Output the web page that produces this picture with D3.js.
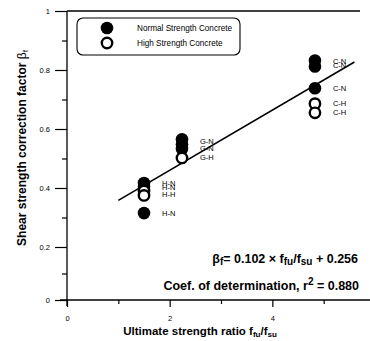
<!DOCTYPE html>
<html><head><meta charset="utf-8">
<script src="https://cdn.jsdelivr.net/npm/d3@7"></script>
<style>
html,body{margin:0;padding:0;background:#fff;}
svg{display:block;font-family:"Liberation Sans",Arial,Helvetica,sans-serif;}
</style></head>
<body><svg id="c" width="370" height="341"></svg>
<script>
// ---- data ----
const groupNames = ["H", "G", "C"];
const groupRatio = [1.50, 2.24, 4.83];           // f_fu / f_su
const pointGroup = ["C","C","C","C","C","G","G","G","G","H","H","H","H","H"];
const pointType  = ["N","N","N","H","H","N","N","N","H","N","N","H","H","N"];
const pointBeta  = [0.832,0.812,0.738,0.686,0.655,0.565,0.548,0.532,0.502,0.417,0.405,0.390,0.375,0.315];
const labelGroup = ["C","C","C","C","C","G","G","G","H","H","H","H"];
const labelText  = ["C-N","C-N","C-N","C-H","C-H","G-N","G-N","G-H","H-N","H-N","H-H","H-N"];
const labelBeta  = [0.830,0.817,0.738,0.686,0.655,0.559,0.535,0.505,0.417,0.403,0.378,0.315];
const yTicks = [0, 0.2, 0.4, 0.6, 0.8, 1];
const yMinor = [0.1, 0.3, 0.5, 0.7, 0.9];
const xTicks = [0, 2, 4];
const xMinor = [1, 3, 5];
const slope = 0.102, intercept = 0.256, r2 = 0.880;
const fitRange = [1.0, 5.6];
const legendItems = [{type:"N", text:"Normal Strength Concrete"},{type:"H", text:"High Strength Concrete"}];

// ---- drawing ----
const svg = d3.select("#c");
const x = d3.scaleLinear().domain([0, 6]).range([67, 375]);
const y = d3.scaleLinear().domain([0, 0.2, 1]).range([300, 247, 11]);
const ratioOf = g => groupRatio[groupNames.indexOf(g)];

// frame lines
svg.append("line").attr("x1", 60).attr("x2", 370).attr("y1", y(0)).attr("y2", y(0)).attr("stroke","#000").attr("stroke-width",1.3);
svg.append("line").attr("x1", x(0)).attr("x2", x(0)).attr("y1", y(1)).attr("y2", y(0)+6).attr("stroke","#000").attr("stroke-width",1.3);
svg.append("line").attr("x1", x(0)).attr("x2", 360).attr("y1", y(1)).attr("y2", y(1)).attr("stroke","#000").attr("stroke-width",1.3);

// axes
const yAx = svg.append("g").attr("transform",`translate(${x(0)},0)`)
  .call(d3.axisLeft(y).tickValues(yTicks).tickSize(12).tickPadding(5).tickFormat(d3.format("~g")));
const yAxM = svg.append("g").attr("transform",`translate(${x(0)},0)`)
  .call(d3.axisLeft(y).tickValues(yMinor).tickSize(5).tickFormat(""));
const xAx = svg.append("g").attr("transform",`translate(0,${y(0)})`)
  .call(d3.axisBottom(x).tickValues(xTicks).tickSize(7).tickPadding(9).tickFormat(d3.format("~g")));
const xAxM = svg.append("g").attr("transform",`translate(0,${y(0)})`)
  .call(d3.axisBottom(x).tickValues(xMinor).tickSize(4).tickFormat(""));
[yAx,yAxM,xAx,xAxM].forEach(g=>{
  g.select(".domain").remove();
  g.selectAll("line").attr("stroke","#000").attr("stroke-width",1.2);
  g.selectAll("text").attr("font-size",7.5).attr("fill","#000").attr("font-family","Liberation Sans, Arial, sans-serif");
});

// regression line
svg.append("line")
  .attr("x1", x(fitRange[0])).attr("y1", y(slope*fitRange[0]+intercept))
  .attr("x2", x(fitRange[1])).attr("y2", y(slope*fitRange[1]+intercept))
  .attr("stroke","#000").attr("stroke-width",1.6);

// points
const pts = pointBeta.map((b,i)=>({g:pointGroup[i], t:pointType[i], b}));
svg.append("g").selectAll("circle").data(pts).join("circle")
  .attr("cx", d=>x(ratioOf(d.g))).attr("cy", d=>y(d.b))
  .attr("r", d=>d.t==="N"?6.3:5.2)
  .attr("fill", d=>d.t==="N"?"#000":"#fff")
  .attr("stroke","#000").attr("stroke-width", d=>d.t==="N"?0:2.4);

// point labels
const labs = labelBeta.map((b,i)=>({g:labelGroup[i], t:labelText[i], b}));
svg.append("g").selectAll("text").data(labs).join("text")
  .attr("x", d=>x(ratioOf(d.g))+18).attr("y", d=>y(d.b)).attr("dy","0.35em")
  .attr("font-size",7.5).attr("fill","#000").text(d=>d.t);

// legend
const lg = svg.append("g");
lg.append("rect").attr("x",77).attr("y",18).attr("width",163).attr("height",37).attr("rx",6)
  .attr("fill","#fff").attr("stroke","#000").attr("stroke-width",1.1);
legendItems.forEach((it,i)=>{
  const cy = 28 + i*15;
  lg.append("circle").attr("cx",107).attr("cy",cy).attr("r", it.type==="N"?6.3:5.2)
    .attr("fill", it.type==="N"?"#000":"#fff").attr("stroke","#000").attr("stroke-width", it.type==="N"?0:2.4);
  lg.append("text").attr("x",137).attr("y",cy).attr("dy","0.35em").attr("font-size",8.2).text(it.text);
});

// equation
const eq = svg.append("text").attr("x",358).attr("y",263).attr("text-anchor","end")
  .attr("font-size",12.5).attr("font-weight","bold");
eq.append("tspan").text("β");
eq.append("tspan").attr("font-size",10).attr("dy",2).text("f");
eq.append("tspan").attr("dy",-2).text(`= ${slope.toFixed(3)} × f`);
eq.append("tspan").attr("font-size",10).attr("dy",2).text("fu");
eq.append("tspan").attr("dy",-2).text("/f");
eq.append("tspan").attr("font-size",10).attr("dy",2).text("su");
eq.append("tspan").attr("dy",-2).text(` + ${intercept.toFixed(3)}`);

const cf = svg.append("text").attr("x",359).attr("y",290).attr("text-anchor","end")
  .attr("font-size",12.5).attr("font-weight","bold");
cf.append("tspan").text("Coef. of determination, r");
cf.append("tspan").attr("font-size",10).attr("dy",-5).text("2");
cf.append("tspan").attr("dy",5).text(` = ${r2.toFixed(3)}`);

// axis titles
const xt = svg.append("text").attr("x",200).attr("y",335).attr("text-anchor","middle")
  .attr("font-size",11.5).attr("font-weight","bold");
xt.append("tspan").text("Ultimate strength ratio  f");
xt.append("tspan").attr("font-size",8).attr("dy",2).text("fu");
xt.append("tspan").attr("dy",-2).text("/f");
xt.append("tspan").attr("font-size",8).attr("dy",2).text("su");

const yt = svg.append("text").attr("transform","translate(26,148) rotate(-90)").attr("text-anchor","middle")
  .attr("font-size",12).attr("font-weight","bold");
yt.append("tspan").text("Shear strength correction factor ");
yt.append("tspan").attr("font-weight","normal").text("β");
yt.append("tspan").attr("font-size",8).attr("font-weight","normal").attr("dy",2).text("f");
</script></body></html>
